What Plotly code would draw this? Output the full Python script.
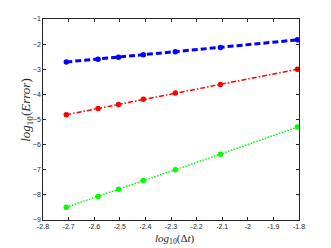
import plotly.graph_objects as go

# log10 of the time step sizes
log_dt = [-2.709, -2.585, -2.505, -2.408, -2.283, -2.107, -1.806]

# log10 of the error for the three schemes
err_blue = [-2.71, -2.60, -2.52, -2.42, -2.30, -2.13, -1.83]
err_red = [-4.81, -4.56, -4.40, -4.19, -3.95, -3.61, -3.00]
err_green = [-8.49, -8.06, -7.78, -7.43, -7.00, -6.38, -5.30]

x_ticks = [-2.8, -2.7, -2.6, -2.5, -2.4, -2.3, -2.2, -2.1, -2.0, -1.9, -1.8]
x_tick_text = ["-2.8", "-2.7", "-2.6", "-2.5", "-2.4", "-2.3", "-2.2", "-2.1", "-2", "-1.9", "-1.8"]
y_ticks = [-9, -8, -7, -6, -5, -4, -3, -2, -1]

fig = go.Figure()
fig.add_trace(
    go.Scatter(
        x=log_dt,
        y=err_blue,
        mode="lines+markers",
        line=dict(color="#0000ff", width=3, dash="6px,3px"),
        marker=dict(color="#0000ff", size=5.5),
    )
)
fig.add_trace(
    go.Scatter(
        x=log_dt,
        y=err_red,
        mode="lines+markers",
        line=dict(color="#ff0000", width=1.5, dash="5px,2px,1.5px,2px"),
        marker=dict(color="#ff0000", size=5.5),
    )
)
fig.add_trace(
    go.Scatter(
        x=log_dt,
        y=err_green,
        mode="lines+markers",
        line=dict(color="#00ff00", width=1.5, dash="1.5px,1.5px"),
        marker=dict(color="#00ff00", size=5.5),
    )
)

axis_style = dict(
    automargin=False,
    showgrid=False,
    zeroline=False,
    showline=True,
    linecolor="#262626",
    linewidth=0.6,
    mirror="ticks",
    ticks="inside",
    ticklen=3,
    tickwidth=0.6,
    tickcolor="#262626",
    tickfont=dict(family="Liberation Sans", size=7, color="#262626"),
)

fig.update_xaxes(range=[-2.8, -1.8], tickvals=x_ticks, ticktext=x_tick_text, **axis_style)
fig.update_yaxes(range=[-9, -1], tickvals=y_ticks, **axis_style)

# axis labels as annotations so they sit where the MATLAB figure has them
label_font = dict(family="Liberation Serif", color="#262626")
fig.add_annotation(
    text="<i>log</i><sub>10</sub>(Δ<i>t</i>)",
    xref="paper",
    yref="paper",
    x=0.516,
    y=-0.097,
    xanchor="center",
    yanchor="middle",
    showarrow=False,
    font=dict(size=11, **label_font),
)
fig.add_annotation(
    text="<i>log</i><sub>10</sub>(<i>Error</i>)",
    xref="paper",
    yref="paper",
    x=-0.065,
    y=0.55,
    xanchor="center",
    yanchor="middle",
    textangle=-90,
    showarrow=False,
    font=dict(size=13, **label_font),
)

fig.update_layout(
    width=331,
    height=248,
    margin=dict(l=43, r=32, t=19, b=28),
    paper_bgcolor="white",
    plot_bgcolor="white",
    showlegend=False,
)

# drop the default page margin so the figure fills the window exactly
fig.write_html(
    "out.html",
    config={"displayModeBar": False},
    post_script="document.body.style.margin = '0';",
)
